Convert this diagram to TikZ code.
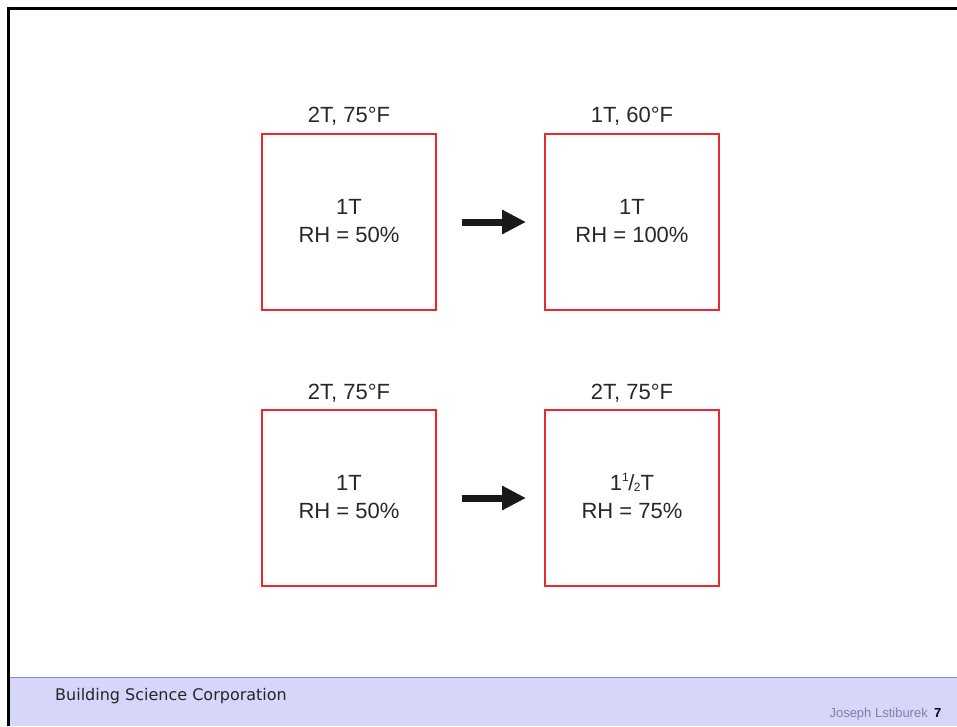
\documentclass[tikz,border=0pt]{standalone}
\usepackage{fontspec}
\setmainfont{Liberation Sans}
\newfontfamily\footfont{DejaVu Sans}
\usetikzlibrary{arrows.meta}
\definecolor{boxred}{RGB}{235,40,50}
\definecolor{footbg}{RGB}{214,214,250}
\definecolor{footline}{RGB}{136,136,204}
\definecolor{authgray}{RGB}{128,128,170}
\definecolor{txtgray}{RGB}{40,40,40}
\tikzset{
  statebox/.style={draw=boxred, line width=2pt, minimum width=174pt, minimum height=176pt, inner sep=0pt},
  lbl/.style={font=\fontsize{22}{26}\selectfont, text=txtgray, inner sep=0pt, anchor=base},
  inner/.style={font=\fontsize{22}{28}\selectfont, text=txtgray, align=center, inner sep=0pt},
  bigarrow/.style={line width=7pt, -{Triangle[length=24pt,width=23pt]}, black!90}
}
\newcommand{\onehalf}{1\smash{\raisebox{0.42em}{\fontsize{12}{12}\selectfont 1}}\kern-0.5pt/\kern-0.5pt\raisebox{-0.05em}{\fontsize{12}{12}\selectfont 2}T}
\begin{document}
\begin{tikzpicture}[x=1pt,y=-1pt]
\useasboundingbox (0,0) rectangle (957,726);
\fill[white] (0,0) rectangle (957,726);
% footer
\fill[footbg] (8,677) rectangle (957,726);
\draw[footline, line width=1pt] (8,677) -- (957,677);
% frame
\draw[black, line width=3pt] (8,726) -- (8,8) -- (957,8);
% boxes
\node[statebox] (b1) at (349,222) {};
\node[statebox] (b2) at (632,222) {};
\node[statebox] (b3) at (349,498) {};
\node[statebox] (b4) at (632,498) {};
% labels
\node[lbl] (l1) at (349,122) {2T, 75°F};
\node[lbl] (l2) at (632,122) {1T, 60°F};
\node[lbl] (l3) at (349,399) {2T, 75°F};
\node[lbl] (l4) at (632,399) {2T, 75°F};
% inner texts
\node[inner] (t1) at (349,221) {1T\\RH = 50\%};
\node[inner] (t2) at (632,221) {1T\\RH = 100\%};
\node[inner] (t3) at (349,497) {1T\\RH = 50\%};
\node[inner] (t4) at (632,497) {\onehalf\\RH = 75\%};
% arrows
\coordinate (a1s) at (462,222);
\coordinate (a1e) at (526,222);
\coordinate (a2s) at (462,498);
\coordinate (a2e) at (526,498);
\draw[bigarrow] (a1s) -- (a1e);
\draw[bigarrow] (a2s) -- (a2e);
% footer texts
\node[anchor=base west, inner sep=0pt, font=\footfont\fontsize{16}{18}\selectfont, text=black!85] (bsc) at (55,700) {Building Science Corporation};
\node[anchor=base east, inner sep=0pt, font=\fontsize{13}{15}\selectfont, text=authgray] (auth) at (928,717) {Joseph Lstiburek};
\node[anchor=base west, inner sep=0pt, font=\bfseries\fontsize{13}{15}\selectfont, text=black] (pg) at (934,717) {7};
\end{tikzpicture}
\end{document}
